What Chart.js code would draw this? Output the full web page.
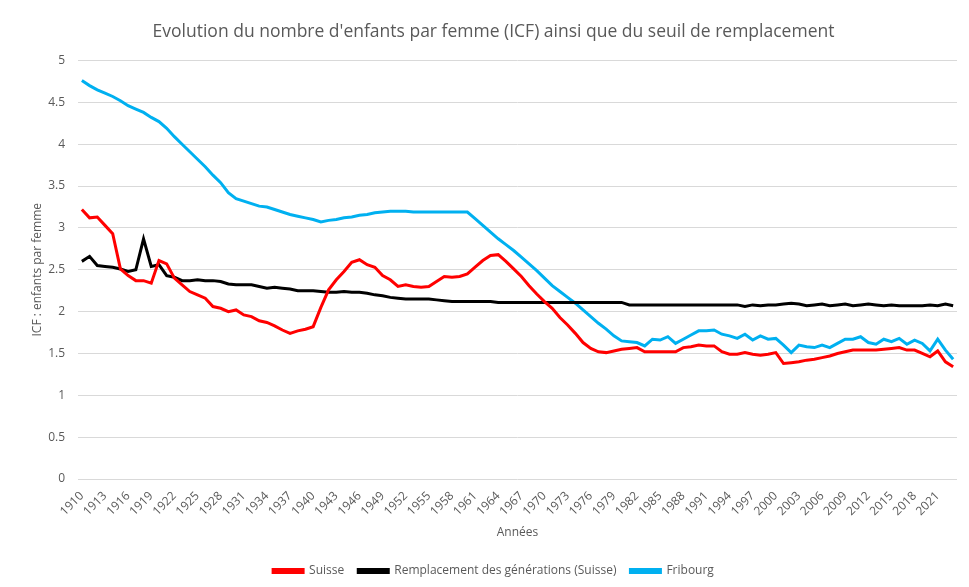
<!DOCTYPE html>
<html>
<head>
<meta charset="utf-8">
<script src="https://cdn.jsdelivr.net/npm/chart.js@4"></script>
<style>
  html, body { margin: 0; padding: 0; background: #fff; }
  #wrap { width: 969px; height: 587px; }
</style>
</head>
<body>
<div id="wrap"><canvas id="icfChart" width="969" height="587"></canvas></div>
<script>
// Years (categories)
const years = [
  '1910','1911','1912','1913','1914','1915','1916','1917','1918','1919',
  '1920','1921','1922','1923','1924','1925','1926','1927','1928','1929',
  '1930','1931','1932','1933','1934','1935','1936','1937','1938','1939',
  '1940','1941','1942','1943','1944','1945','1946','1947','1948','1949',
  '1950','1951','1952','1953','1954','1955','1956','1957','1958','1959',
  '1960','1961','1962','1963','1964','1965','1966','1967','1968','1969',
  '1970','1971','1972','1973','1974','1975','1976','1977','1978','1979',
  '1980','1981','1982','1983','1984','1985','1986','1987','1988','1989',
  '1990','1991','1992','1993','1994','1995','1996','1997','1998','1999',
  '2000','2001','2002','2003','2004','2005','2006','2007','2008','2009',
  '2010','2011','2012','2013','2014','2015','2016','2017','2018','2019',
  '2020','2021','2022','2023'
];

// ICF Suisse
const suisse = [
  3.22, 3.12, 3.13, 3.03, 2.93, 2.51, 2.43, 2.37, 2.37, 2.34,
  2.61, 2.57, 2.40, 2.32, 2.24, 2.20, 2.16, 2.06, 2.04, 2.00,
  2.02, 1.96, 1.94, 1.89, 1.87, 1.83, 1.78, 1.74, 1.77, 1.79,
  1.82, 2.05, 2.26, 2.38, 2.48, 2.59, 2.62, 2.56, 2.53, 2.43,
  2.38, 2.30, 2.32, 2.30, 2.29, 2.30, 2.36, 2.42, 2.41, 2.42,
  2.45, 2.53, 2.61, 2.67, 2.68, 2.60, 2.51, 2.42, 2.31, 2.21,
  2.12, 2.04, 1.93, 1.84, 1.74, 1.63, 1.56, 1.52, 1.51, 1.53,
  1.55, 1.56, 1.57, 1.52, 1.52, 1.52, 1.52, 1.52, 1.57, 1.58,
  1.60, 1.59, 1.59, 1.52, 1.49, 1.49, 1.51, 1.49, 1.48, 1.49,
  1.51, 1.38, 1.39, 1.40, 1.42, 1.43, 1.45, 1.47, 1.50, 1.52,
  1.54, 1.54, 1.54, 1.54, 1.55, 1.56, 1.57, 1.54, 1.54, 1.50,
  1.46, 1.53, 1.40, 1.34
];

// Seuil de remplacement des generations (Suisse)
const remplacement = [
  2.60, 2.66, 2.55, 2.54, 2.53, 2.51, 2.48, 2.50, 2.87, 2.54,
  2.56, 2.43, 2.41, 2.37, 2.37, 2.38, 2.37, 2.37, 2.36, 2.33,
  2.32, 2.32, 2.32, 2.30, 2.28, 2.29, 2.28, 2.27, 2.25, 2.25,
  2.25, 2.24, 2.23, 2.23, 2.24, 2.23, 2.23, 2.22, 2.20, 2.19,
  2.17, 2.16, 2.15, 2.15, 2.15, 2.15, 2.14, 2.13, 2.12, 2.12,
  2.12, 2.12, 2.12, 2.12, 2.11, 2.11, 2.11, 2.11, 2.11, 2.11,
  2.11, 2.11, 2.11, 2.11, 2.11, 2.11, 2.11, 2.11, 2.11, 2.11,
  2.11, 2.08, 2.08, 2.08, 2.08, 2.08, 2.08, 2.08, 2.08, 2.08,
  2.08, 2.08, 2.08, 2.08, 2.08, 2.08, 2.06, 2.08, 2.07, 2.08,
  2.08, 2.09, 2.10, 2.09, 2.07, 2.08, 2.09, 2.07, 2.08, 2.09,
  2.07, 2.08, 2.09, 2.08, 2.07, 2.08, 2.07, 2.07, 2.07, 2.07,
  2.08, 2.07, 2.09, 2.07
];

// ICF Fribourg
const fribourg = [
  4.76, 4.70, 4.65, 4.61, 4.57, 4.52, 4.46, 4.42, 4.38, 4.32,
  4.27, 4.19, 4.09, 4.00, 3.91, 3.82, 3.73, 3.63, 3.54, 3.42,
  3.35, 3.32, 3.29, 3.26, 3.25, 3.22, 3.19, 3.16, 3.14, 3.12,
  3.10, 3.07, 3.09, 3.10, 3.12, 3.13, 3.15, 3.16, 3.18, 3.19,
  3.20, 3.20, 3.20, 3.19, 3.19, 3.19, 3.19, 3.19, 3.19, 3.19,
  3.19, 3.11, 3.03, 2.95, 2.87, 2.80, 2.73, 2.65, 2.57, 2.49,
  2.40, 2.31, 2.24, 2.17, 2.10, 2.02, 1.94, 1.86, 1.79, 1.71,
  1.65, 1.64, 1.63, 1.59, 1.67, 1.66, 1.70, 1.62, 1.67, 1.72,
  1.77, 1.77, 1.78, 1.73, 1.71, 1.68, 1.73, 1.66, 1.71, 1.67,
  1.68, 1.60, 1.51, 1.60, 1.58, 1.57, 1.60, 1.57, 1.62, 1.67,
  1.67, 1.70, 1.63, 1.61, 1.67, 1.64, 1.68, 1.61, 1.66, 1.62,
  1.53, 1.67, 1.54, 1.43
];

const textColor = '#595959';
const fontFamily = "'Open Sans', 'Liberation Sans', sans-serif";

Chart.defaults.font.family = fontFamily;
Chart.defaults.color = textColor;

const ctx = document.getElementById('icfChart').getContext('2d');
const icfChart = new Chart(ctx, {
  type: 'line',
  data: {
    labels: years,
    datasets: [
      {
        label: 'Suisse',
        data: suisse,
        borderColor: '#ff0000',
        backgroundColor: '#ff0000',
        borderWidth: 3,
        pointRadius: 0,
        tension: 0
      },
      {
        label: 'Remplacement des générations (Suisse)',
        data: remplacement,
        borderColor: '#000000',
        backgroundColor: '#000000',
        borderWidth: 3,
        pointRadius: 0,
        tension: 0
      },
      {
        label: 'Fribourg',
        data: fribourg,
        borderColor: '#00b0f0',
        backgroundColor: '#00b0f0',
        borderWidth: 3,
        pointRadius: 0,
        tension: 0
      }
    ]
  },
  options: {
    responsive: false,
    animation: false,
    layout: {
      padding: { left: 30, right: 12, top: 0, bottom: 0 }
    },
    scales: {
      x: {
        offset: true,
        grid: { display: false },
        border: { display: false },
        ticks: {
          autoSkip: false,
          minRotation: 45,
          maxRotation: 45,
          padding: 2,
          font: { size: 12 },
          callback: function(value, index) {
            return index % 3 === 0 ? years[index] : '';
          }
        },
        title: {
          display: true,
          text: 'Années',
          font: { size: 12 },
          padding: { top: 4, bottom: 11 }
        },
        afterFit: function(scale) {
          scale.height = 72; // keep plot bottom on the 0 line of the reference
        }
      },
      y: {
        min: 0,
        max: 5,
        grid: {
          color: '#d9d9d9',
          lineWidth: 1,
          drawTicks: false
        },
        border: { display: false },
        ticks: {
          stepSize: 0.5,
          padding: 13,
          font: { size: 12 },
          callback: function(value) {
            return String(value);
          }
        },
        title: {
          display: true,
          text: 'ICF : enfants par femme',
          font: { size: 12 },
          padding: { top: 0, bottom: 0 }
        },
        afterFit: function(scale) {
          scale.width = 48;
        }
      }
    },
    plugins: {
      title: {
        display: true,
        text: "Evolution du nombre d'enfants par femme (ICF) ainsi que du seuil de remplacement",
        font: { size: 17.5, weight: 'normal' },
        color: textColor,
        padding: { top: 22, bottom: 17.5 }
      },
      legend: {
        position: 'bottom',
        labels: {
          boxWidth: 30,
          boxHeight: 3,
          padding: 14,
          font: { size: 12 },
          color: textColor
        }
      },
      tooltip: { enabled: false }
    }
  }
});
</script>
</body>
</html>
